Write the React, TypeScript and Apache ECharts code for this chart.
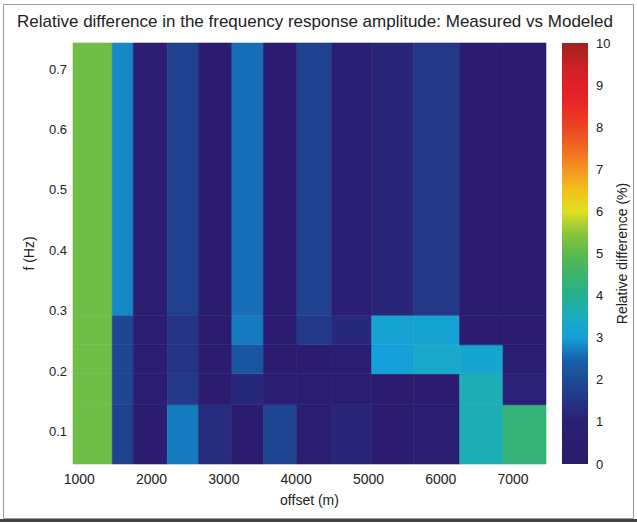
import React, { useEffect, useRef } from "react";
import * as echarts from "echarts";

// Cell edges (offset in m, frequency in Hz)
const xEdges = [913, 1456, 1747, 2217, 2649, 3111, 3548, 4010, 4494, 5045, 5622, 6261, 6862, 7456];
const yEdges = [0.047, 0.145, 0.196, 0.244, 0.293, 0.743];

// Relative difference (%) per cell, rows from lowest frequency band upward
const row1 = [5.2, 1.8, 0.5, 2.7, 1.3, 0.5, 1.9, 0.6, 1.1, 0.5, 0.6, 3.6, 4.3];
const row2 = [5.2, 1.9, 0.6, 1.6, 0.5, 1.2, 0.6, 0.6, 0.6, 0.4, 0.5, 3.6, 1.0];
const row3 = [5.2, 1.9, 0.6, 1.5, 0.5, 2.2, 0.5, 0.5, 0.6, 3.0, 3.3, 3.2, 0.6];
const row4 = [5.2, 1.9, 0.6, 1.5, 0.5, 2.7, 0.5, 1.6, 1.2, 3.1, 3.1, 0.5, 0.5];
const row5 = [5.2, 2.8, 0.7, 1.8, 0.5, 2.6, 0.5, 1.8, 0.8, 1.1, 1.6, 0.4, 0.4];
const rows = [row1, row2, row3, row4, row5];

// Colormap, evenly spaced from 0 to 10 (step 0.5)
const cmap = [
  "#2b1b6b", "#2b1c70", "#2a2176", "#253485", "#1d4a96", "#1862ad", "#14a0d8",
  "#1aadc0", "#27b08d", "#3cb36a", "#5bb94c", "#8cc53c", "#e0e020", "#f2c01a",
  "#f39520", "#f06a22", "#ec4423", "#e82a25", "#e21f26", "#c82224", "#a0211f",
];

const cbMin = 0;
const cbMax = 10;

const titleText = "Relative difference in the frequency response amplitude: Measured vs Modeled";
const FONT = "Liberation Sans, Arial, sans-serif";

export default function App() {
  const ref = useRef<HTMLDivElement>(null);
  useEffect(() => {
    document.body.style.margin = "0";
    const chart = echarts.init(ref.current!, null, { renderer: "svg" });
    const data: number[][] = [];
    rows.forEach((r, j) =>
      r.forEach((v, i) => data.push([xEdges[i], xEdges[i + 1], yEdges[j], yEdges[j + 1], v]))
    );
    const stops = cmap.map((c, k) => ({ offset: k / (cmap.length - 1), color: c }));
    const fmt1 = (v: number) => {
      const r = Math.round(v * 10) / 10;
      return Math.abs(r - v) < 1e-6 ? r.toFixed(1) : "";
    };
    const fmtK = (v: number) => (Math.abs(v % 1000) < 1e-6 ? String(v) : "");
    chart.setOption({
      animation: false,
      backgroundColor: "#ffffff",
      textStyle: { fontFamily: FONT },
      title: {
        text: titleText,
        left: 12,
        top: 8,
        textStyle: {
          fontSize: 17,
          fontWeight: "normal",
          color: "#222",
          fontFamily: FONT,
          width: 614,
          overflow: "truncate",
          ellipsis: "",
        },
      },
      grid: [
        { left: 73, top: 43, width: 473, height: 421 },
        { left: 562, top: 43, width: 26, height: 421 },
      ],
      xAxis: [
        {
          type: "value",
          gridIndex: 0,
          min: xEdges[0],
          max: xEdges[xEdges.length - 1],
          name: "offset (m)",
          nameLocation: "middle",
          nameGap: 29,
          nameTextStyle: { fontSize: 14, color: "#222", fontFamily: FONT },
          axisLine: { show: false },
          axisTick: { show: false },
          splitLine: { show: false },
          axisLabel: {
            formatter: fmtK,
            showMinLabel: false,
            showMaxLabel: false,
            fontSize: 14,
            color: "#222",
            margin: 8,
            fontFamily: FONT,
          },
        },
        {
          type: "value",
          gridIndex: 1,
          min: 0,
          max: 1,
          show: false,
        },
      ],
      yAxis: [
        {
          type: "value",
          gridIndex: 0,
          min: yEdges[0],
          max: yEdges[yEdges.length - 1],
          name: "f (Hz)",
          nameLocation: "middle",
          nameGap: 37,
          nameRotate: 90,
          nameTextStyle: { fontSize: 14, color: "#222", fontFamily: FONT },
          axisLine: { show: false },
          axisTick: { show: false },
          splitLine: { show: false },
          axisLabel: {
            formatter: fmt1,
            showMinLabel: false,
            showMaxLabel: false,
            fontSize: 13,
            color: "#222",
            margin: 6,
            fontFamily: FONT,
          },
        },
        {
          type: "value",
          gridIndex: 1,
          position: "right",
          min: cbMin,
          max: cbMax,
          interval: 1,
          name: "Relative difference (%)",
          nameLocation: "middle",
          nameGap: 27,
          nameRotate: 90,
          nameTextStyle: { fontSize: 14, color: "#222", fontFamily: FONT },
          axisLine: { show: false },
          axisTick: { show: false },
          splitLine: { show: false },
          axisLabel: { fontSize: 13, color: "#222", margin: 8, fontFamily: FONT },
        },
      ],
      visualMap: {
        type: "continuous",
        show: false,
        min: cbMin,
        max: cbMax,
        dimension: 4,
        seriesIndex: 0,
        inRange: { color: cmap },
      },
      series: [
        {
          type: "custom",
          xAxisIndex: 0,
          yAxisIndex: 0,
          encode: { x: [0, 1], y: [2, 3] },
          data,
          renderItem: (params: any, api: any) => {
            const p0 = api.coord([api.value(0), api.value(2)]);
            const p1 = api.coord([api.value(1), api.value(3)]);
            const c = api.visual("color");
            return {
              type: "rect",
              shape: {
                x: p0[0],
                y: p1[1],
                width: p1[0] - p0[0],
                height: p0[1] - p1[1],
              },
              style: { fill: c, stroke: c, lineWidth: 0.6 },
            };
          },
        },
        {
          type: "custom",
          xAxisIndex: 1,
          yAxisIndex: 1,
          encode: { x: [0, 1], y: [2, 3] },
          data: [[0, 1, cbMin, cbMax]],
          renderItem: (params: any, api: any) => {
            const p0 = api.coord([api.value(0), api.value(2)]);
            const p1 = api.coord([api.value(1), api.value(3)]);
            return {
              type: "rect",
              shape: {
                x: p0[0],
                y: p1[1],
                width: p1[0] - p0[0],
                height: p0[1] - p1[1],
              },
              style: { fill: new echarts.graphic.LinearGradient(0, 1, 0, 0, stops) },
            };
          },
        },
      ],
      graphic: [
        {
          type: "rect",
          shape: { x: 3.5, y: 4.5, width: 630, height: 514 },
          style: { fill: "none", stroke: "#9a9a9a", lineWidth: 1 },
          silent: true,
        },
        {
          type: "line",
          shape: { x1: 0, y1: 520.5, x2: 637, y2: 520.5 },
          style: { stroke: "#444", lineWidth: 3 },
          silent: true,
        },
      ],
    });
    return () => chart.dispose();
  }, []);
  return <div ref={ref} style={{ width: 637, height: 523 }} />;
}
